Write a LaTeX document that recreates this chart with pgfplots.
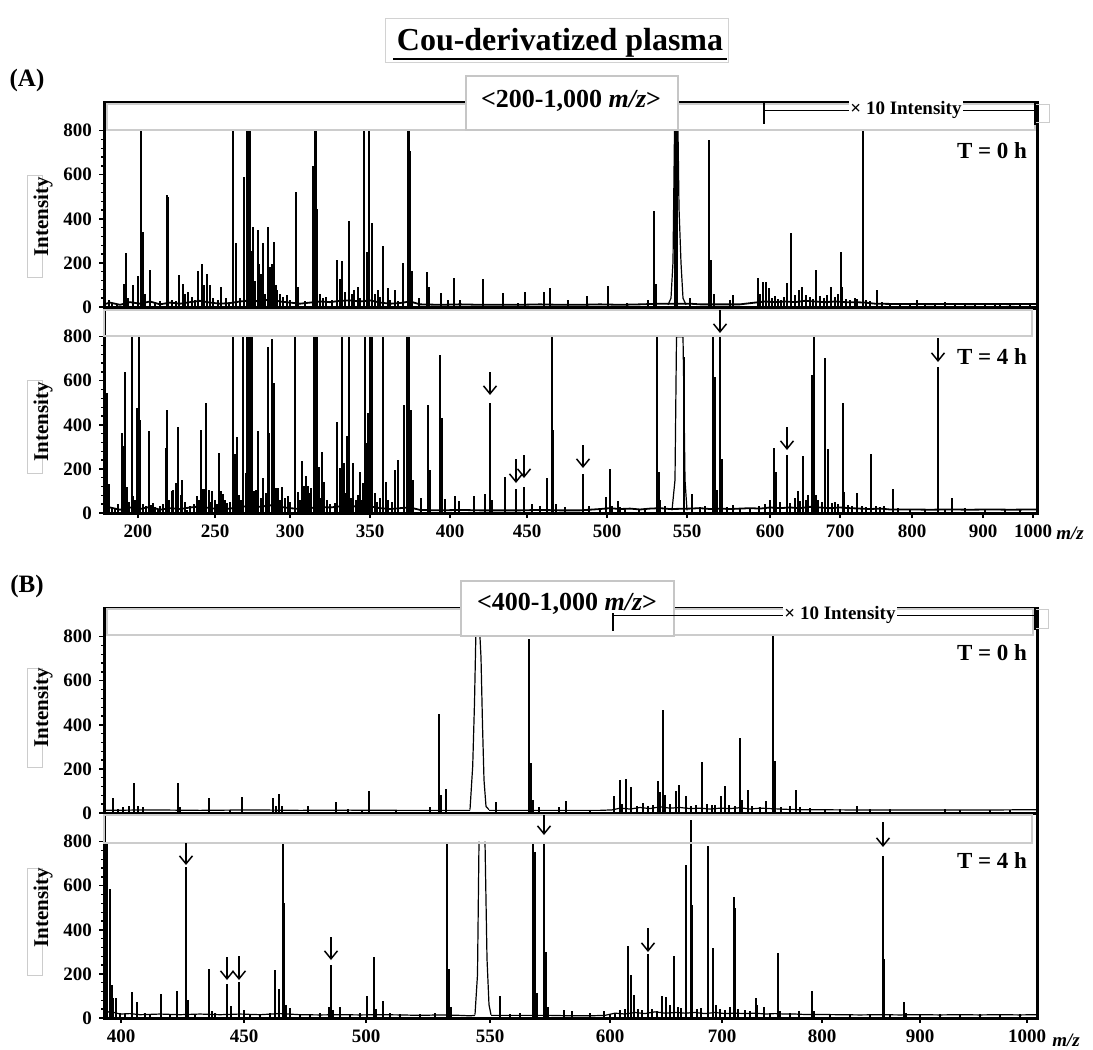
\documentclass[border=0pt]{standalone}
\usepackage{pgfplots}
\pgfplotsset{compat=1.18}
\usepackage{fontspec}
\setmainfont{Liberation Serif}
\usetikzlibrary{arrows.meta}

\pgfplotsset{
  spec/.style={
    x=0.5pt, y=0.1102pt,
    xmin=104, xmax=1037, ymin=0, ymax=930,
    anchor=south west,
    axis line style={line width=1.5pt},
    ytick={0,200,400,600,800},
    minor y tick num=4,
    tick align=outside,
    xtick pos=left, ytick pos=left,
    major tick length=2.5pt, minor tick length=1.5pt,
    every tick/.style={black, line width=0.7pt},
    tick label style={font=\bfseries\fontsize{9.5}{11}\selectfont},
    /pgf/number format/assume math mode=true,
    clip=true,
  },
  xA/.style={xtick={138,215,290,370,450,527,607,687,770,840,912,983,1033},
    xticklabels={200,250,300,350,400,450,500,550,600,700,800,900,1000},
    minor x tick num=4},
  xB/.style={xtick={121,244,366,490,610,722,822,920,1027},
    xticklabels={400,450,500,550,600,700,800,900,1000},
    minor x tick num=4},
  pk/.style={ycomb, black, line width=0.85pt},
  pkB/.style={ycomb, black, line width=0.65pt},
  bl/.style={black, line width=0.9pt},
}

\begin{document}
\begin{tikzpicture}
\useasboundingbox (0,0) rectangle (546.5pt,-525pt);

% ================= Panel A, T = 0 h =================
\begin{axis}[spec, at={(52pt,-153.5pt)}, xtick=\empty]
\addplot[pk] coordinates {(109,30)(124,105)(126,245)(133,100)(138,140)(141,800)(143,340)(150,170)(167,510)(168,500)(179,143)(183,103)(188,68)(198,163)(202,196)(207,148)(210,98)(221,93)(233,800)(236,290)(244,588)(247,800)(249,800)(250,800)(252,256)(253,365)(258,350)(259,196)(263,290)(268,362)(270,180)(272,193)(274,294)(277,75)(287,53)(296,524)(298,90)(313,641)(315,800)(316,800)(317,445)(323,42)(337,211)(340,128)(342,207)(349,392)(354,75)(358,90)(364,800)(367,250)(369,800)(372,382)(378,78)(383,275)(388,88)(395,75)(403,200)(408,800)(409,800)(410,709)(412,163)(419,42)(427,161)(429,90)(441,65)(448,30)(454,131)(460,33)(483,128)(503,65)(518,20)(525,68)(544,68)(550,88)(568,30)(587,48)(608,95)(627,18)(648,30)(654,435)(656,103)(675,800)(677,800)(690,40)(709,757)(711,211)(714,60)(730,30)(733,53)(758,131)(763,113)(766,113)(769,88)(778,38)(787,109)(791,336)(799,75)(802,90)(806,56)(816,166)(827,53)(831,90)(841,249)(842,90)(857,38)(863,800)(877,78)(917,30)(945,22)(975,20)(1000,18)
(240,40)(255,120)(261,150)(265,60)(276,100)(280,60)(283,45)(290,30)(305,25)(320,60)(326,45)(332,30)(345,70)(352,60)(360,40)(375,60)(380,45)(390,30)(398,25)(112,20)(117,15)(128,40)(145,60)(155,20)(160,25)(172,30)(176,25)(185,60)(192,45)(195,30)(204,100)(213,40)(218,30)(226,40)(229,20)
(760,60)(772,40)(775,50)(781,30)(784,45)(795,55)(810,45)(813,35)(820,50)(824,40)(835,45)(838,60)(846,35)(850,30)(855,40)(866,30)(870,25)(882,22)(890,20)(900,18)(910,18)(925,20)(935,18)(955,18)(965,18)(985,16)(995,18)(1010,16)(1020,16)(1030,18)};
\addplot[bl] coordinates {(104,12)(110,20)(120,10)(130,22)(140,15)(150,25)(160,12)(170,20)(180,15)(190,22)(200,28)(210,20)(220,15)(230,18)(240,25)(250,30)(260,25)(270,35)(280,25)(290,20)(300,15)(310,20)(320,25)(330,22)(340,28)(350,30)(360,25)(370,30)(380,20)(390,15)(400,18)(410,25)(420,12)(440,10)(460,12)(480,10)(500,10)(520,10)(540,12)(560,10)(580,10)(600,12)(620,10)(640,12)(660,15)(690,15)(700,12)(720,12)(740,12)(755,20)(765,25)(775,22)(785,25)(795,22)(805,28)(815,25)(825,22)(835,25)(845,22)(855,22)(865,20)(875,15)(890,14)(910,14)(930,13)(950,14)(970,13)(990,14)(1010,13)(1036,14)};
\addplot[black, line width=0.6pt] coordinates {(668,10)(671,40)(673,205)(674.5,800)(678,800)(679,450)(681,200)(683,40)(686,10)};
\end{axis}

% ================= Panel A, T = 4 h =================
\begin{axis}[spec, xA, at={(52pt,-256.5pt)}]
\addplot[pk] coordinates {(107,546)(109,133)(112,23)(115,20)(122,365)(123,302)(125,641)(127,118)(132,800)(133,75)(137,475)(139,800)(140,423)(143,40)(149,373)(151,38)(155,25)(160,30)(166,297)(167,468)(172,98)(173,106)(176,136)(177,136)(178,392)(182,151)(187,15)(197,78)(201,377)(203,109)(204,109)(206,498)(209,103)(212,98)(215,60)(219,272)(223,86)(227,45)(233,800)(235,269)(237,343)(243,800)(246,181)(247,800)(249,800)(251,800)(252,800)(256,106)(258,370)(263,161)(268,755)(269,362)(272,788)(274,589)(276,113)(278,113)(282,116)(288,75)(295,800)(298,94)(302,234)(304,124)(306,166)(308,121)(311,113)(314,800)(315,800)(317,800)(319,211)(322,279)(324,139)(335,45)(337,412)(340,204)(342,800)(344,226)(347,350)(349,800)(353,226)(360,184)(363,136)(365,800)(367,317)(368,453)(370,800)(372,800)(375,91)(383,800)(386,139)(395,196)
(398,240)(404,490)(407,800)(409,800)(411,468)(413,151)(421,68)(428,490)(430,196)(440,717)(442,430)(445,63)(455,78)(459,53)(474,75)(485,88)(490,498)(492,57)(505,163)(516,110)(524,118)(532,40)(540,30)(547,158)(552,800)(553,377)(556,40)(565,25)(583,177)(589,33)(606,72)(610,199)(618,53)(639,15)(657,800)(659,184)(684,709)(692,88)(713,800)(715,619)(717,106)(720,800)(722,244)(733,38)(759,33)(774,297)(776,184)(787,264)(798,101)(803,257)(806,60)(812,626)(814,800)(816,80)(825,702)(828,290)(835,50)(843,498)(844,94)(857,91)(871,269)(884,33)(893,110)(938,664)(952,68)(965,22)(985,20)(1005,20)(1020,18)
(118,40)(129,50)(135,60)(146,30)(153,45)(158,20)(163,40)(169,60)(181,80)(185,50)(190,30)(194,40)(199,60)(211,50)(217,40)(221,100)(225,60)(230,50)(239,80)(241,60)(254,100)(261,70)(266,90)(280,60)(285,70)(290,50)(300,60)(310,90)(320,70)(327,60)(330,40)(345,90)(351,70)(356,60)(358,80)(362,60)(377,50)(380,70)(388,60)(392,50)
(600,20)(612,30)(620,25)(625,20)(645,18)(660,60)(665,30)(700,25)(705,30)(727,25)(740,20)(750,22)(765,40)(770,60)(780,50)(790,45)(795,70)(800,55)(808,80)(818,60)(822,50)(832,45)(838,40)(848,35)(852,30)(862,30)(866,25)(876,30)(880,25)(898,22)(910,20)(925,20)(945,20)};
\addplot[bl] coordinates {(104,15)(110,25)(120,15)(130,25)(140,18)(150,28)(160,15)(170,22)(180,18)(190,25)(200,30)(210,22)(220,18)(230,20)(240,28)(250,32)(260,28)(270,35)(280,28)(290,22)(300,18)(310,22)(320,28)(330,25)(340,30)(350,32)(360,28)(370,30)(380,22)(390,18)(400,22)(410,25)(420,14)(440,12)(460,14)(480,12)(500,12)(520,12)(540,14)(560,12)(580,12)(600,18)(610,22)(620,18)(630,20)(640,16)(650,20)(660,22)(670,18)(690,20)(700,22)(710,18)(720,20)(730,18)(740,20)(750,22)(760,20)(770,25)(780,22)(790,25)(800,22)(810,28)(820,25)(830,22)(840,25)(850,22)(860,20)(870,18)(880,20)(890,16)(910,16)(930,15)(950,16)(970,15)(990,16)(1010,15)(1036,16)};
\addplot[black, line width=0.6pt] coordinates {(672,12)(675,150)(676.5,800)(683,800)(684,500)(685,150)(687,12)};
\end{axis}

% ================= Panel B, T = 0 h =================
\begin{axis}[spec, at={(52pt,-406.5pt)}, xtick=\empty]
\addplot[pkB] coordinates {(113,68)(118,20)(123,27)(129,30)(134,134)(138,30)(143,27)(178,137)(180,25)(209,68)(230,15)(242,71)(273,68)(276,30)(279,88)(282,30)(308,30)(336,49)(348,18)(362,15)(369,99)(396,15)(430,26)(439,451)(441,80)(446,109)(496,50)(529,789)(531,228)(533,61)(539,26)(559,26)(566,56)(590,15)(614,79)(620,152)(622,40)(626,156)(631,118)(637,30)(643,46)(648,30)(653,35)(658,147)(660,96)(663,466)(665,83)(670,40)(676,102)(679,126)(686,76)(691,30)(696,35)(702,231)(707,40)(712,35)(715,38)(721,76)(725,121)(729,35)(735,30)(740,342)(742,60)(748,106)(752,30)(760,25)(766,53)(773,805)(775,235)(781,25)(790,30)(796,103)(800,25)(810,22)(825,20)(840,18)(857,30)(870,16)(890,16)(945,18)(960,15)(990,15)(1010,15)};
\addplot[black, line width=0.6pt] coordinates {(104,12)(150,14)(200,12)(250,14)(300,12)(350,13)(400,12)(450,12)(470,12)};
\addplot[black, line width=0.6pt] coordinates {(470,15)(472.7,212)(474.5,500)(476,842)(479.5,842)(481,706)(482.5,400)(484,150)(486,30)(489,15)};
\addplot[black, line width=0.6pt] coordinates {(489,12)(500,12)(550,12)(600,12)(612,14)(620,22)(630,18)(640,25)(650,20)(660,28)(670,22)(680,25)(690,20)(700,22)(710,18)(720,22)(730,20)(740,24)(750,18)(760,22)(770,20)(780,18)(790,16)(800,15)(850,14)(900,14)(950,14)(1000,14)(1036,15)};
\end{axis}

% ================= Panel B, T = 4 h =================
\begin{axis}[spec, xB, at={(52pt,-509pt)}]
\addplot[pkB] coordinates {(107,794)(110,587)(112,152)(113,91)(116,91)(120,25)(125,20)(132,117)(137,71)(145,25)(150,20)(161,109)(170,20)(177,121)(186,683)(188,83)(195,20)(209,223)(212,30)(215,25)(227,155)(231,53)(239,162)(244,38)(250,20)(260,20)(270,25)(275,220)(279,132)(283,789)(284,521)(286,60)(290,46)(300,20)(310,20)(320,25)(329,50)(331,240)(333,38)(340,49)(350,20)(360,25)(367,102)(374,278)(376,40)(383,76)(390,25)(400,20)(420,20)(435,25)(447,789)(449,223)(451,50)(500,102)(510,20)(520,25)(533,800)(535,751)(537,114)(544,800)(546,299)(548,50)(564,38)(572,30)(590,25)(604,33)(610,20)(615,25)(620,35)(625,40)(628,329)(631,197)(634,106)(638,40)(642,35)(648,291)(652,40)(657,30)(662,102)(666,94)(670,60)(674,281)(678,50)(681,45)(686,694)(691,900)(692,512)(697,40)(701,45)(708,782)(713,319)(716,60)(720,40)(725,35)(730,50)(734,550)(735,500)(738,40)(745,35)(750,30)(756,91)(757,60)(764,50)(770,25)(778,293)(780,30)(790,25)(799,30)(812,121)(814,30)(830,20)(850,20)(870,18)(883,733)(884,266)(890,20)(904,73)(906,25)(920,20)(940,18)(960,18)(980,18)(1000,18)(1020,18)};
\addplot[black, line width=0.6pt] coordinates {(104,20)(110,30)(120,18)(130,20)(140,15)(160,18)(180,15)(200,18)(220,15)(240,18)(260,15)(280,20)(300,15)(320,14)(340,15)(360,14)(380,15)(400,14)(420,12)(440,14)(460,12)(470,10)(475,12)};
\addplot[black, line width=0.6pt] coordinates {(475,15)(477.5,197)(479,800)};
\addplot[black, line width=0.6pt] coordinates {(485,800)(487,269)(489,60)(491,15)};
\addplot[black, line width=0.6pt] coordinates {(491,12)(510,12)(530,12)(550,12)(570,10)(590,10)(605,12)(615,22)(625,18)(635,25)(645,20)(655,28)(665,22)(675,25)(685,22)(695,25)(705,20)(715,25)(725,20)(735,22)(745,20)(755,22)(765,18)(775,20)(785,18)(795,18)(805,16)(820,16)(840,15)(860,14)(880,15)(900,14)(920,15)(940,14)(960,15)(980,14)(1000,15)(1020,14)(1036,15)};
\end{axis}

% ================= Annotations (pixel coordinates) =================
\begin{scope}[x=0.5pt, y=-0.5pt]
  % title
  \draw[gray!35, line width=0.5pt] (385,18) rectangle (728,62);
  \node[font=\bfseries\fontsize{16}{18}\selectfont, inner sep=0pt] at (560,43) {Cou-derivatized plasma};
  \draw[line width=1pt] (393,59) -- (727,59);
  % panel letters
  \node[font=\bfseries\fontsize{12.5}{14}\selectfont, inner sep=0pt] at (27,80) {(A)};
  \node[font=\bfseries\fontsize{12.5}{14}\selectfont, inner sep=0pt] at (27,586) {(B)};

  % gray x10 areas
  \draw[gray!40, line width=0.6pt] (107,104) rectangle (1035,130);
  \draw[gray!40, line width=0.6pt] (104,310) rectangle (1032,336);
  \draw[gray!40, line width=0.6pt] (107,609) rectangle (1033,635);
  \draw[gray!40, line width=0.6pt] (104,815) rectangle (1032,843);
  \draw[gray!40, line width=0.5pt] (1035,104) rectangle (1049,122);
  \draw[gray!40, line width=0.5pt] (1035,609) rectangle (1048,628);

  % range boxes
  \draw[gray!45, fill=white, line width=0.6pt] (466,76) rectangle (678,130);
  \node[font=\bfseries\fontsize{13}{15}\selectfont, inner sep=0pt] at (571,101) {<200-1,000 \textit{m/z}>};
  \draw[gray!45, fill=white, line width=0.6pt] (461,581) rectangle (674,636);
  \node[font=\bfseries\fontsize{13}{15}\selectfont, inner sep=0pt] at (567,604) {<400-1,000 \textit{m/z}>};

  % x10 brackets
  \draw[line width=0.8pt] (764,102) -- (764,124);
  \draw[line width=0.5pt] (764,110) -- (1035,110);
  \draw[line width=0.8pt] (1035,102) -- (1035,125);
  \node[fill=white, inner sep=0.6pt, font=\bfseries\fontsize{9.5}{11}\selectfont] at (906,110) {× 10 Intensity};
  \draw[line width=0.8pt] (613,613) -- (613,631);
  \draw[line width=0.5pt] (613,615) -- (1035,615);
  \draw[line width=0.8pt] (1035,607) -- (1035,630);
  \node[fill=white, inner sep=0.6pt, font=\bfseries\fontsize{9.5}{11}\selectfont] at (840,615) {× 10 Intensity};

  % time labels
  \node[font=\bfseries\fontsize{11.5}{13}\selectfont, inner sep=0pt] at (992,151) {T = 0 h};
  \node[font=\bfseries\fontsize{11.5}{13}\selectfont, inner sep=0pt] at (992,357) {T = 4 h};
  \node[font=\bfseries\fontsize{11.5}{13}\selectfont, inner sep=0pt] at (992,653) {T = 0 h};
  \node[font=\bfseries\fontsize{11.5}{13}\selectfont, inner sep=0pt] at (992,861) {T = 4 h};

  % y labels
  \foreach \ya/\yb/\yc in {175/277/217, 380/473/422, 668/767/708, 868/975/908}{
    \draw[gray!40, line width=0.5pt] (27,\ya) rectangle (42,\yb);
    \node[rotate=90, font=\bfseries\fontsize{10.5}{12}\selectfont, inner sep=0pt] at (43,\yc) {Intensity};
  }

  % m/z axis units
  \node[font=\bfseries\itshape\fontsize{9.5}{11}\selectfont, inner sep=0pt] at (1070,533) {m/z};
  \node[font=\bfseries\itshape\fontsize{9.5}{11}\selectfont, inner sep=0pt] at (1066,1040) {m/z};

  % arrows
  \foreach \ax/\ya/\yb in {490/372/395, 516/459/483, 524/455/478, 583/445/468, 720/310/333, 787/427/450, 938/338/362,
                          186/843/865, 227/957/980, 239/956/980, 331/937/960, 544/815/835, 648/928/952, 883/822/847}{
    \draw[line width=0.75pt, -{Straight Barb[length=4pt,width=6.5pt]}] (\ax,\ya) -- (\ax,\yb);
  }
\end{scope}
\end{tikzpicture}
\end{document}
